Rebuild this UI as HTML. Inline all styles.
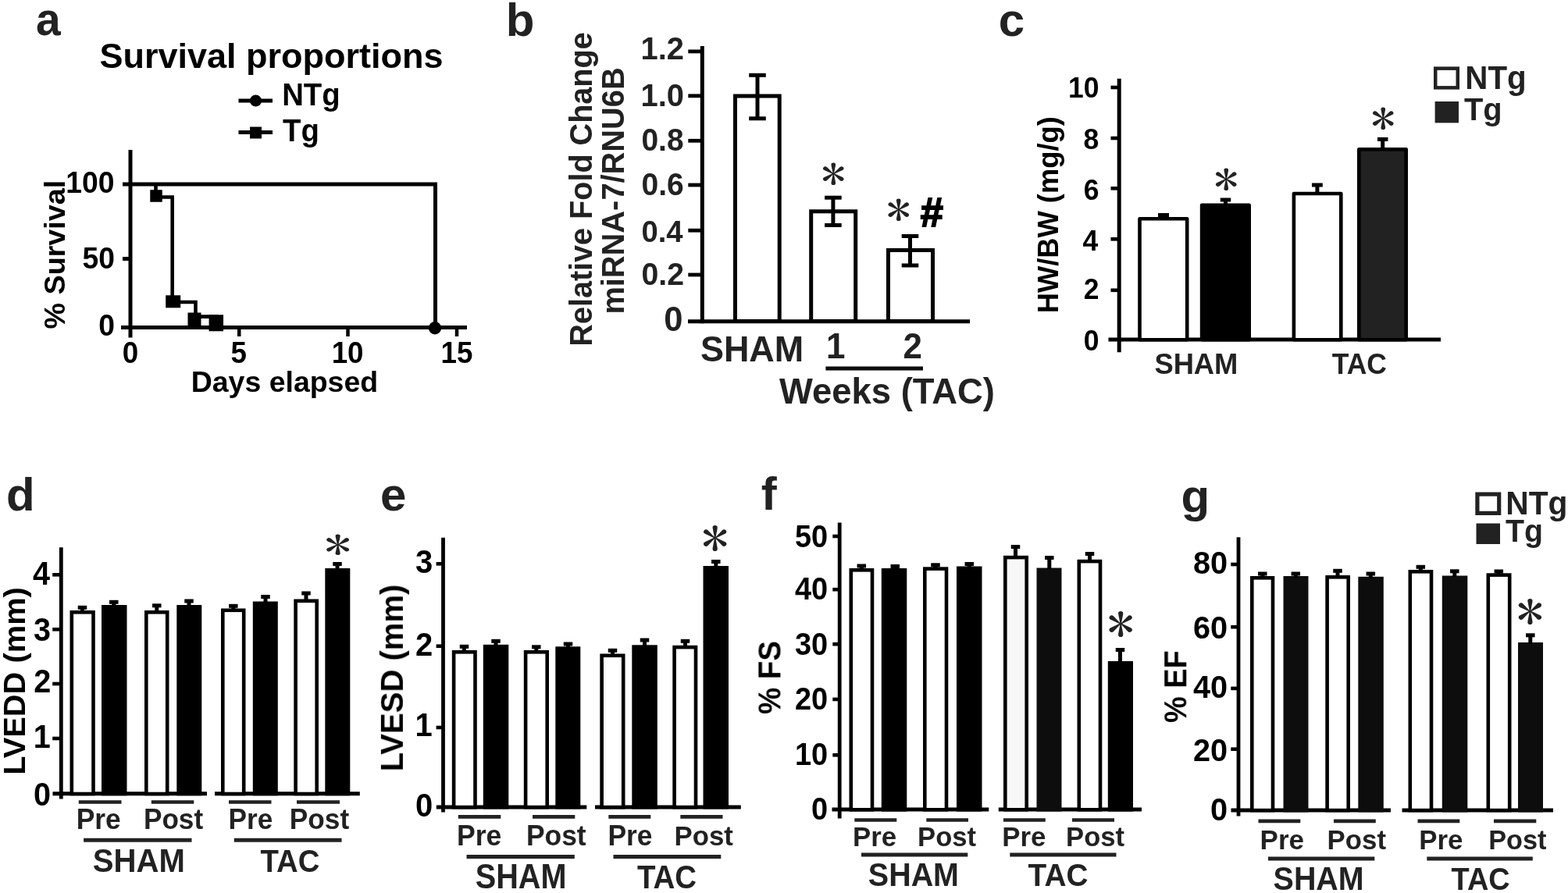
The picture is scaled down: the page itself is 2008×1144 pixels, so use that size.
<!DOCTYPE html>
<html lang="en">
<head>
<meta charset="utf-8">
<title>Figure: Survival, miRNA-7 expression and cardiac function</title>
<style>
html,body{margin:0;padding:0;background:#fff;}
body{width:2008px;height:1144px;overflow:hidden;}
svg{display:block;}
text{white-space:pre;font-family:"Liberation Sans",sans-serif;font-weight:bold;}
text.st{font-family:"IPAGothic","Liberation Serif",serif;font-weight:normal;}
</style>
</head>
<body>
<svg width="2008" height="1144" viewBox="0 0 2008 1144" role="img" aria-label="Seven-panel figure: survival curve, miRNA-7 expression, heart weight and echocardiography bar charts">
<defs><filter id="soft" x="0" y="0" width="2008" height="1144" filterUnits="userSpaceOnUse"><feGaussianBlur stdDeviation="0.55"/></filter></defs>
<rect x="0" y="0" width="2008" height="1144" fill="#fff"/>
<g filter="url(#soft)">
<text transform="translate(46.01 45.1) scale(1 1.04)" font-size="57" fill="#222" >a</text>
<text x="647.7" y="45.5" font-size="60" fill="#222" >b</text>
<text x="1278.72" y="45.7" font-size="60" fill="#222" >c</text>
<text x="7.95" y="653.5" font-size="60" fill="#222" >d</text>
<text x="486.88" y="653.5" font-size="60" fill="#222" >e</text>
<text x="974.67" y="653" font-size="60" fill="#222" >f</text>
<text x="1512.58" y="655.8" font-size="60" fill="#222" >g</text>
<text x="127.45" y="87.2" font-size="45" fill="#000" >Survival proportions</text>
<line x1="305.5" y1="129" x2="349" y2="129" stroke="#000" stroke-width="5"/>
<circle cx="327.5" cy="129" r="7.6" fill="#000"/>
<line x1="305.5" y1="169.5" x2="349" y2="169.5" stroke="#000" stroke-width="5"/>
<rect x="320" y="162.5" width="15" height="15" fill="#000"/>
<text transform="translate(361.15 135) scale(1 1.04)" font-size="38.3" fill="#000" >NTg</text>
<text transform="translate(362.12 181) scale(1 1.04)" font-size="38.3" fill="#000" >Tg</text>
<line x1="167" y1="192" x2="167" y2="432.5" stroke="#000" stroke-width="5"/>
<line x1="155" y1="419.5" x2="598" y2="419.5" stroke="#000" stroke-width="5"/>
<line x1="157" y1="236" x2="167" y2="236" stroke="#000" stroke-width="5"/>
<line x1="157" y1="331.5" x2="167" y2="331.5" stroke="#000" stroke-width="5"/>
<line x1="306.25" y1="419.5" x2="306.25" y2="431" stroke="#000" stroke-width="4.5"/>
<line x1="445.5" y1="419.5" x2="445.5" y2="431" stroke="#000" stroke-width="4.5"/>
<line x1="585" y1="419.5" x2="585" y2="431" stroke="#000" stroke-width="4.5"/>
<path d="M167 236 H557.5 V419.5" fill="none" stroke="#000" stroke-width="5"/>
<circle cx="557" cy="420.2" r="8.2" fill="#000"/>
<path d="M199.5 236 V252.5 H220.7 V387 H250.5 V405.6 H277 V414" fill="none" stroke="#000" stroke-width="4.6"/>
<rect x="192.25" y="243.25" width="15.5" height="15.5" fill="#000"/>
<rect x="212.2" y="378.3" width="19" height="16" fill="#000"/>
<rect x="240.5" y="400.5" width="17" height="18" fill="#000"/>
<rect x="267.55" y="403.3" width="18.5" height="21" fill="#000"/>
<text transform="translate(84.29 247) scale(1 1.04)" font-size="37.3" fill="#000" >100</text>
<text transform="translate(105.49 344.2) scale(1 1.04)" font-size="37.3" fill="#000" >50</text>
<text transform="translate(126.19 429.5) scale(1 1.04)" font-size="37.3" fill="#000" >0</text>
<text transform="translate(156.79 464.7) scale(1 1.03)" font-size="36.8" fill="#000" >0</text>
<text transform="translate(295.54 464.7) scale(1 1.03)" font-size="36.8" fill="#000" >5</text>
<text transform="translate(424.66 464.7) scale(1 1.03)" font-size="36.8" fill="#000" >10</text>
<text transform="translate(564.43 464.7) scale(1 1.03)" font-size="36.8" fill="#000" >15</text>
<text x="244.67" y="501.6" font-size="37.48" fill="#000" >Days elapsed</text>
<text transform="translate(83 421.44) rotate(-90)" font-size="37.7" fill="#000" >% Survival</text>
<line x1="899.3" y1="59" x2="899.3" y2="414.3" stroke="#000" stroke-width="5"/>
<line x1="881" y1="411.8" x2="1242" y2="411.8" stroke="#000" stroke-width="5"/>
<line x1="881.3" y1="65.9" x2="899.3" y2="65.9" stroke="#000" stroke-width="4.8"/>
<line x1="881.3" y1="122.8" x2="899.3" y2="122.8" stroke="#000" stroke-width="4.8"/>
<line x1="881.3" y1="180.3" x2="899.3" y2="180.3" stroke="#000" stroke-width="4.8"/>
<line x1="881.3" y1="237" x2="899.3" y2="237" stroke="#000" stroke-width="4.8"/>
<line x1="881.3" y1="295.2" x2="899.3" y2="295.2" stroke="#000" stroke-width="4.8"/>
<line x1="881.3" y1="352" x2="899.3" y2="352" stroke="#000" stroke-width="4.8"/>
<text transform="translate(820.5 76.4) scale(1 1.03)" font-size="39.92" fill="#222" >1.2</text>
<text transform="translate(820.5 135.5) scale(1 1.03)" font-size="39.92" fill="#222" >1.0</text>
<text transform="translate(821.44 192.8) scale(1 1.03)" font-size="38.94" fill="#222" >0.8</text>
<text transform="translate(821.44 250.1) scale(1 1.03)" font-size="39.09" fill="#222" >0.6</text>
<text transform="translate(821.47 309.8) scale(1 1.03)" font-size="38.22" fill="#222" >0.4</text>
<text transform="translate(821.43 364.9) scale(1 1.03)" font-size="39.24" fill="#222" >0.2</text>
<text x="850.33" y="424.2" font-size="43.5" fill="#222" >0</text>
<rect x="941.5" y="123" width="56.7" height="288.5" fill="#fff" stroke="#000" stroke-width="5"/>
<rect x="1038.7" y="270.8" width="57" height="140.7" fill="#fff" stroke="#000" stroke-width="5"/>
<rect x="1137.5" y="320.5" width="57" height="91" fill="#fff" stroke="#000" stroke-width="5"/>
<line x1="970" y1="96.3" x2="970" y2="151.8" stroke="#000" stroke-width="5"/>
<line x1="959.2" y1="96.3" x2="980.8" y2="96.3" stroke="#000" stroke-width="5"/>
<line x1="959.2" y1="151.8" x2="980.8" y2="151.8" stroke="#000" stroke-width="5"/>
<line x1="1066.9" y1="253.2" x2="1066.9" y2="288.5" stroke="#000" stroke-width="5"/>
<line x1="1056.1" y1="253.2" x2="1077.7" y2="253.2" stroke="#000" stroke-width="5"/>
<line x1="1056.1" y1="288.5" x2="1077.7" y2="288.5" stroke="#000" stroke-width="5"/>
<line x1="1165.5" y1="302.5" x2="1165.5" y2="340" stroke="#000" stroke-width="5"/>
<line x1="1154.7" y1="302.5" x2="1176.3" y2="302.5" stroke="#000" stroke-width="5"/>
<line x1="1154.7" y1="340" x2="1176.3" y2="340" stroke="#000" stroke-width="5"/>
<text transform="translate(1067.2 222.5) scale(0.6320 0.5700) translate(-24.88 38)" class="st" font-size="100" fill="#222">*</text>
<text transform="translate(1150.8 268.2) scale(0.6320 0.5700) translate(-24.88 38)" class="st" font-size="100" fill="#222">*</text>
<text x="1178.87" y="290.3" font-size="52.5" fill="#000"  stroke="#000" stroke-width="1.8">#</text>
<text transform="translate(896.95 463.4) scale(1 1.04)" font-size="44.95" fill="#222" >SHAM</text>
<text transform="translate(1058.02 458.6) scale(1 1.04)" font-size="44" fill="#222" >1</text>
<text transform="translate(1156.4 458.6) scale(1 1.04)" font-size="44" fill="#222" >2</text>
<line x1="1057.4" y1="472" x2="1182" y2="472" stroke="#0a0a0a" stroke-width="5"/>
<text x="998.09" y="517" font-size="45.41" fill="#222" >Weeks (TAC)</text>
<text transform="translate(757.8 443.67) rotate(-90) scale(1 1.035)" font-size="39.58" fill="#222" >Relative Fold Change</text>
<text transform="translate(798.5 402.59) rotate(-90)" font-size="39.82" fill="#222" >miRNA-7/RNU6B</text>
<line x1="1433.2" y1="100.8" x2="1433.2" y2="451.3" stroke="#000" stroke-width="5"/>
<line x1="1419.5" y1="435" x2="1845" y2="435" stroke="#000" stroke-width="5"/>
<line x1="1422.5" y1="112" x2="1433" y2="112" stroke="#000" stroke-width="4.6"/>
<line x1="1422.5" y1="177" x2="1433" y2="177" stroke="#000" stroke-width="4.6"/>
<line x1="1422.5" y1="241.3" x2="1433" y2="241.3" stroke="#000" stroke-width="4.6"/>
<line x1="1422.5" y1="306.3" x2="1433" y2="306.3" stroke="#000" stroke-width="4.6"/>
<line x1="1422.5" y1="371.8" x2="1433" y2="371.8" stroke="#000" stroke-width="4.6"/>
<text transform="translate(1368.12 124.8) scale(1 1.06)" font-size="35.5" fill="#000" >10</text>
<text transform="translate(1387.46 191) scale(1 1.06)" font-size="35.5" fill="#000" >8</text>
<text transform="translate(1387.64 255.8) scale(1 1.06)" font-size="35.5" fill="#000" >6</text>
<text transform="translate(1386.57 320.9) scale(1 1.06)" font-size="35.5" fill="#000" >4</text>
<text transform="translate(1387.82 383) scale(1 1.06)" font-size="35.5" fill="#000" >2</text>
<text transform="translate(1387.82 449.3) scale(1 1.06)" font-size="35.5" fill="#000" >0</text>
<rect x="1459.5" y="280.3" width="60.7" height="154.9" fill="#fff" stroke="#000" stroke-width="4.6" stroke-linejoin="round"/>
<rect x="1539.1" y="262.8" width="60.6" height="172.4" fill="#000" stroke="#000" stroke-width="4.6" stroke-linejoin="round"/>
<rect x="1656.9" y="248" width="60.4" height="187.2" fill="#fff" stroke="#000" stroke-width="4.6" stroke-linejoin="round"/>
<rect x="1740.3" y="191.3" width="60.4" height="243.9" fill="#232323" stroke="#000" stroke-width="4.6" stroke-linejoin="round"/>
<line x1="1490" y1="275.5" x2="1490" y2="280" stroke="#000" stroke-width="5"/>
<line x1="1483" y1="275.5" x2="1497" y2="275.5" stroke="#000" stroke-width="5"/>
<line x1="1569.5" y1="256" x2="1569.5" y2="262" stroke="#000" stroke-width="5"/>
<line x1="1562.75" y1="256" x2="1576.25" y2="256" stroke="#000" stroke-width="5"/>
<line x1="1686.9" y1="237" x2="1686.9" y2="247" stroke="#000" stroke-width="5"/>
<line x1="1680" y1="237" x2="1693.8" y2="237" stroke="#000" stroke-width="5"/>
<line x1="1770.7" y1="178.4" x2="1770.7" y2="190" stroke="#000" stroke-width="5"/>
<line x1="1763.95" y1="178.4" x2="1777.45" y2="178.4" stroke="#000" stroke-width="5"/>
<text transform="translate(1570.3 229) scale(0.6320 0.5700) translate(-24.88 38)" class="st" font-size="100" fill="#222">*</text>
<text transform="translate(1771.3 151.5) scale(0.6320 0.5700) translate(-24.88 38)" class="st" font-size="100" fill="#222">*</text>
<text transform="translate(1478.41 478.8) scale(1 1.03)" font-size="36.35" fill="#222" >SHAM</text>
<text transform="translate(1705.65 478.8) scale(1 1.03)" font-size="35.48" fill="#222" >TAC</text>
<text transform="translate(1355 401.25) rotate(-90)" font-size="36.31" fill="#000" >HW/BW (mg/g)</text>
<rect x="1838.25" y="87.65" width="28.5" height="24.7" fill="#fff" stroke="#222" stroke-width="4.5"/>
<rect x="1837.6" y="130" width="30.4" height="27.4" fill="#232323"/>
<text transform="translate(1876.28 114) scale(1 1.04)" font-size="40.33" fill="#222" >NTg</text>
<text transform="translate(1875 154) scale(1 1.04)" font-size="39.83" fill="#222" >Tg</text>
<line x1="78.3" y1="701.3" x2="78.3" y2="1023.5" stroke="#000" stroke-width="4.8"/>
<line x1="67.5" y1="1016.8" x2="265" y2="1016.8" stroke="#000" stroke-width="5"/>
<line x1="275" y1="1016.8" x2="460.8" y2="1016.8" stroke="#000" stroke-width="5"/>
<line x1="67.2" y1="736.3" x2="78.3" y2="736.3" stroke="#000" stroke-width="4.6"/>
<line x1="67.2" y1="806.3" x2="78.3" y2="806.3" stroke="#000" stroke-width="4.6"/>
<line x1="67.2" y1="876" x2="78.3" y2="876" stroke="#000" stroke-width="4.6"/>
<line x1="67.2" y1="946" x2="78.3" y2="946" stroke="#000" stroke-width="4.6"/>
<text transform="translate(41.92 749.3) scale(1 1.07)" font-size="39.6" fill="#000" >4</text>
<text transform="translate(43.11 820.8) scale(1 1.07)" font-size="39.6" fill="#000" >3</text>
<text transform="translate(43.31 887.2) scale(1 1.07)" font-size="39.6" fill="#000" >2</text>
<text transform="translate(42.81 958.3) scale(1 1.07)" font-size="39.6" fill="#000" >1</text>
<text transform="translate(43.01 1031.8) scale(1 1.07)" font-size="39.6" fill="#000" >0</text>
<rect x="91.8" y="784.3" width="27.7" height="232.7" fill="#fff" stroke="#000" stroke-width="4.6"/>
<rect x="130" y="775" width="32.5" height="244.3" fill="#000"/>
<rect x="187.3" y="784.3" width="26.9" height="232.7" fill="#fff" stroke="#000" stroke-width="4.6"/>
<rect x="226.3" y="775" width="32" height="244.3" fill="#000"/>
<rect x="285.3" y="781.8" width="26.9" height="235.2" fill="#fff" stroke="#000" stroke-width="4.6"/>
<rect x="323.8" y="770.5" width="32" height="248.8" fill="#000"/>
<rect x="378.6" y="769.8" width="27.1" height="247.2" fill="#fff" stroke="#000" stroke-width="4.6"/>
<rect x="416.3" y="728" width="32" height="291.3" fill="#000"/>
<line x1="105.5" y1="778.3" x2="105.5" y2="784" stroke="#000" stroke-width="5"/>
<line x1="99.75" y1="778.3" x2="111.25" y2="778.3" stroke="#000" stroke-width="5"/>
<line x1="145.8" y1="771.3" x2="145.8" y2="777" stroke="#000" stroke-width="5"/>
<line x1="140.05" y1="771.3" x2="151.55" y2="771.3" stroke="#000" stroke-width="5"/>
<line x1="200.8" y1="775.8" x2="200.8" y2="784" stroke="#000" stroke-width="5"/>
<line x1="195.05" y1="775.8" x2="206.55" y2="775.8" stroke="#000" stroke-width="5"/>
<line x1="242" y1="770" x2="242" y2="777" stroke="#000" stroke-width="5"/>
<line x1="236.25" y1="770" x2="247.75" y2="770" stroke="#000" stroke-width="5"/>
<line x1="298.8" y1="776.3" x2="298.8" y2="781.5" stroke="#000" stroke-width="5"/>
<line x1="293.05" y1="776.3" x2="304.55" y2="776.3" stroke="#000" stroke-width="5"/>
<line x1="340" y1="764.5" x2="340" y2="772.5" stroke="#000" stroke-width="5"/>
<line x1="334.25" y1="764.5" x2="345.75" y2="764.5" stroke="#000" stroke-width="5"/>
<line x1="392" y1="760" x2="392" y2="769.5" stroke="#000" stroke-width="5"/>
<line x1="386.25" y1="760" x2="397.75" y2="760" stroke="#000" stroke-width="5"/>
<line x1="432" y1="722.5" x2="432" y2="730" stroke="#000" stroke-width="5"/>
<line x1="426.25" y1="722.5" x2="437.75" y2="722.5" stroke="#000" stroke-width="5"/>
<text transform="translate(432.5 698) scale(0.6864 0.5300) translate(-24.88 38)" class="st" font-size="100" fill="#222">*</text>
<line x1="100.8" y1="1027.5" x2="155.5" y2="1027.5" stroke="#242424" stroke-width="4.7"/>
<line x1="193.8" y1="1027.5" x2="248.3" y2="1027.5" stroke="#242424" stroke-width="4.7"/>
<line x1="293" y1="1027.5" x2="347.5" y2="1027.5" stroke="#242424" stroke-width="4.7"/>
<line x1="380" y1="1027.5" x2="435" y2="1027.5" stroke="#242424" stroke-width="4.7"/>
<text transform="translate(97.71 1062) scale(1 1.03)" font-size="35.43" fill="#222" >Pre</text>
<text transform="translate(183.93 1062) scale(1 1.03)" font-size="35.16" fill="#222" >Post</text>
<text transform="translate(292.52 1062) scale(1 1.03)" font-size="35.23" fill="#222" >Pre</text>
<text transform="translate(370.82 1062) scale(1 1.03)" font-size="35.21" fill="#222" >Post</text>
<line x1="107.1" y1="1076.3" x2="245.5" y2="1076.3" stroke="#222" stroke-width="5"/>
<line x1="299.8" y1="1076.3" x2="437.5" y2="1076.3" stroke="#222" stroke-width="5"/>
<text transform="translate(118.8 1116.7) scale(1 1.055)" font-size="40.14" fill="#222" >SHAM</text>
<text transform="translate(333.42 1116.7) scale(1 1.055)" font-size="38.35" fill="#222" >TAC</text>
<text transform="translate(32.1 992.69) rotate(-90) scale(1 0.97)" font-size="39.86" fill="#000" >LVEDD (mm)</text>
<line x1="567.5" y1="688.8" x2="567.5" y2="1040.5" stroke="#000" stroke-width="4.8"/>
<line x1="558.8" y1="1033.9" x2="751.3" y2="1033.9" stroke="#000" stroke-width="5"/>
<line x1="762" y1="1033.9" x2="948.8" y2="1033.9" stroke="#000" stroke-width="5"/>
<line x1="558.6" y1="722.3" x2="567.5" y2="722.3" stroke="#000" stroke-width="4.6"/>
<line x1="558.6" y1="827.7" x2="567.5" y2="827.7" stroke="#000" stroke-width="4.6"/>
<line x1="558.6" y1="932" x2="567.5" y2="932" stroke="#000" stroke-width="4.6"/>
<text transform="translate(531.9 733.6) scale(1 1.075)" font-size="40" fill="#000" >3</text>
<text transform="translate(532.1 840) scale(1 1.075)" font-size="40" fill="#000" >2</text>
<text transform="translate(531.6 943.4) scale(1 1.075)" font-size="40" fill="#000" >1</text>
<text transform="translate(532.1 1045.8) scale(1 1.075)" font-size="40" fill="#000" >0</text>
<rect x="581.1" y="835.3" width="27.4" height="198.8" fill="#fff" stroke="#000" stroke-width="4.6"/>
<rect x="618.8" y="825.8" width="32.5" height="210.6" fill="#000"/>
<rect x="673.1" y="835.3" width="27.6" height="198.8" fill="#fff" stroke="#000" stroke-width="4.6"/>
<rect x="711.3" y="828.3" width="32" height="208.1" fill="#000"/>
<rect x="770.6" y="839.8" width="27.6" height="194.3" fill="#fff" stroke="#000" stroke-width="4.6"/>
<rect x="809.3" y="826.3" width="32.5" height="210.1" fill="#000"/>
<rect x="863.6" y="829.1" width="27.4" height="205" fill="#fff" stroke="#000" stroke-width="4.6"/>
<rect x="900.5" y="725" width="32.5" height="311.4" fill="#000"/>
<line x1="594.5" y1="828.3" x2="594.5" y2="835" stroke="#000" stroke-width="5"/>
<line x1="588.75" y1="828.3" x2="600.25" y2="828.3" stroke="#000" stroke-width="5"/>
<line x1="635" y1="821.3" x2="635" y2="827.8" stroke="#000" stroke-width="5"/>
<line x1="629.25" y1="821.3" x2="640.75" y2="821.3" stroke="#000" stroke-width="5"/>
<line x1="686.8" y1="828.8" x2="686.8" y2="835" stroke="#000" stroke-width="5"/>
<line x1="681.05" y1="828.8" x2="692.55" y2="828.8" stroke="#000" stroke-width="5"/>
<line x1="727.5" y1="825" x2="727.5" y2="830.3" stroke="#000" stroke-width="5"/>
<line x1="721.75" y1="825" x2="733.25" y2="825" stroke="#000" stroke-width="5"/>
<line x1="784.5" y1="833.3" x2="784.5" y2="839.5" stroke="#000" stroke-width="5"/>
<line x1="778.75" y1="833.3" x2="790.25" y2="833.3" stroke="#000" stroke-width="5"/>
<line x1="825.5" y1="820" x2="825.5" y2="828.3" stroke="#000" stroke-width="5"/>
<line x1="819.75" y1="820" x2="831.25" y2="820" stroke="#000" stroke-width="5"/>
<line x1="877.5" y1="821.3" x2="877.5" y2="828.8" stroke="#000" stroke-width="5"/>
<line x1="871.75" y1="821.3" x2="883.25" y2="821.3" stroke="#000" stroke-width="5"/>
<line x1="916.8" y1="719.5" x2="916.8" y2="727" stroke="#000" stroke-width="5"/>
<line x1="911.05" y1="719.5" x2="922.55" y2="719.5" stroke="#000" stroke-width="5"/>
<text transform="translate(915.5 690) scale(0.6982 0.6500) translate(-24.88 38)" class="st" font-size="100" fill="#222">*</text>
<line x1="586.8" y1="1046.3" x2="641.3" y2="1046.3" stroke="#242424" stroke-width="4.7"/>
<line x1="682" y1="1046.3" x2="736.3" y2="1046.3" stroke="#242424" stroke-width="4.7"/>
<line x1="779.3" y1="1046.3" x2="833.3" y2="1046.3" stroke="#242424" stroke-width="4.7"/>
<line x1="871.3" y1="1046.3" x2="925.5" y2="1046.3" stroke="#242424" stroke-width="4.7"/>
<text transform="translate(584.9 1083.4) scale(1 1.03)" font-size="35.63" fill="#222" >Pre</text>
<text transform="translate(673.91 1083.4) scale(1 1.03)" font-size="35.4" fill="#222" >Post</text>
<text transform="translate(778.41 1083.4) scale(1 1.03)" font-size="35.43" fill="#222" >Pre</text>
<text transform="translate(863.45 1083.4) scale(1 1.03)" font-size="34.83" fill="#222" >Post</text>
<line x1="597.5" y1="1097.5" x2="735.8" y2="1097.5" stroke="#222" stroke-width="5"/>
<line x1="785.5" y1="1097.5" x2="923.3" y2="1097.5" stroke="#222" stroke-width="5"/>
<text transform="translate(608.81 1137.5) scale(1 1.1)" font-size="39.65" fill="#222" >SHAM</text>
<text transform="translate(815.91 1137.5) scale(1 1.1)" font-size="38.51" fill="#222" >TAC</text>
<text transform="translate(515.9 988.3) rotate(-90)" font-size="40.07" fill="#000" >LVESD (mm)</text>
<line x1="1075.2" y1="669.5" x2="1075.2" y2="1048.5" stroke="#000" stroke-width="4.8"/>
<line x1="1065.5" y1="1037.1" x2="1266.3" y2="1037.1" stroke="#000" stroke-width="5"/>
<line x1="1278.8" y1="1037.1" x2="1462" y2="1037.1" stroke="#000" stroke-width="5"/>
<line x1="1066.3" y1="687" x2="1075.2" y2="687" stroke="#000" stroke-width="4.6"/>
<line x1="1066.3" y1="755.2" x2="1075.2" y2="755.2" stroke="#000" stroke-width="4.6"/>
<line x1="1066.3" y1="825.2" x2="1075.2" y2="825.2" stroke="#000" stroke-width="4.6"/>
<line x1="1066.3" y1="895.9" x2="1075.2" y2="895.9" stroke="#000" stroke-width="4.6"/>
<line x1="1066.3" y1="967.3" x2="1075.2" y2="967.3" stroke="#000" stroke-width="4.6"/>
<text transform="translate(1017.94 700.7) scale(1 1.09)" font-size="38" fill="#000" >50</text>
<text transform="translate(1017.94 768.2) scale(1 1.09)" font-size="38" fill="#000" >40</text>
<text transform="translate(1017.94 839.1) scale(1 1.09)" font-size="38" fill="#000" >30</text>
<text transform="translate(1017.94 908.7) scale(1 1.09)" font-size="38" fill="#000" >20</text>
<text transform="translate(1017.94 979.6) scale(1 1.09)" font-size="38" fill="#000" >10</text>
<text transform="translate(1039.03 1049.8) scale(1 1.09)" font-size="38" fill="#000" >0</text>
<rect x="1089.8" y="730.3" width="27.2" height="307" fill="#fff" stroke="#000" stroke-width="4.6"/>
<rect x="1128.8" y="728" width="32.5" height="311.6" fill="#000"/>
<rect x="1184.3" y="728.6" width="27.7" height="308.7" fill="#fff" stroke="#000" stroke-width="4.6"/>
<rect x="1225" y="725.5" width="32.5" height="314.1" fill="#000"/>
<rect x="1287.3" y="714.1" width="27.4" height="323.2" fill="#f7f7f7" stroke="#000" stroke-width="4.6"/>
<rect x="1327.5" y="727.5" width="32" height="312.1" fill="#101010"/>
<rect x="1381.8" y="719.1" width="27.2" height="318.2" fill="#fff" stroke="#000" stroke-width="4.6"/>
<rect x="1418.8" y="847" width="32.2" height="192.6" fill="#000"/>
<line x1="1103.3" y1="725" x2="1103.3" y2="730" stroke="#000" stroke-width="5"/>
<line x1="1097.55" y1="725" x2="1109.05" y2="725" stroke="#000" stroke-width="5"/>
<line x1="1146.3" y1="725.5" x2="1146.3" y2="730" stroke="#000" stroke-width="5"/>
<line x1="1140.55" y1="725.5" x2="1152.05" y2="725.5" stroke="#000" stroke-width="5"/>
<line x1="1198" y1="723.8" x2="1198" y2="728.3" stroke="#000" stroke-width="5"/>
<line x1="1192.25" y1="723.8" x2="1203.75" y2="723.8" stroke="#000" stroke-width="5"/>
<line x1="1241.3" y1="722.5" x2="1241.3" y2="727.5" stroke="#000" stroke-width="5"/>
<line x1="1235.55" y1="722.5" x2="1247.05" y2="722.5" stroke="#000" stroke-width="5"/>
<line x1="1300.5" y1="700.5" x2="1300.5" y2="713.8" stroke="#000" stroke-width="5"/>
<line x1="1294.75" y1="700.5" x2="1306.25" y2="700.5" stroke="#000" stroke-width="5"/>
<line x1="1343.8" y1="714.5" x2="1343.8" y2="729.5" stroke="#000" stroke-width="5"/>
<line x1="1338.05" y1="714.5" x2="1349.55" y2="714.5" stroke="#000" stroke-width="5"/>
<line x1="1395.5" y1="709.5" x2="1395.5" y2="718.8" stroke="#000" stroke-width="5"/>
<line x1="1389.75" y1="709.5" x2="1401.25" y2="709.5" stroke="#000" stroke-width="5"/>
<line x1="1434.5" y1="832.5" x2="1434.5" y2="849" stroke="#000" stroke-width="5"/>
<line x1="1428.75" y1="832.5" x2="1440.25" y2="832.5" stroke="#000" stroke-width="5"/>
<text transform="translate(1435 800) scale(0.6982 0.6500) translate(-24.88 38)" class="st" font-size="100" fill="#222">*</text>
<line x1="1094.3" y1="1050.5" x2="1148.3" y2="1050.5" stroke="#242424" stroke-width="4.7"/>
<line x1="1186.3" y1="1050.5" x2="1240" y2="1050.5" stroke="#242424" stroke-width="4.7"/>
<line x1="1285" y1="1050.5" x2="1338.8" y2="1050.5" stroke="#242424" stroke-width="4.7"/>
<line x1="1373" y1="1050.5" x2="1427" y2="1050.5" stroke="#242424" stroke-width="4.7"/>
<text transform="translate(1091.95 1083.5) scale(1 1.02)" font-size="34.83" fill="#222" >Pre</text>
<text transform="translate(1175.06 1083.5) scale(1 1.02)" font-size="34.63" fill="#222" >Post</text>
<text transform="translate(1283.14 1083.5) scale(1 1.02)" font-size="34.9" fill="#222" >Pre</text>
<text transform="translate(1365.06 1083.5) scale(1 1.02)" font-size="34.63" fill="#222" >Post</text>
<line x1="1103" y1="1095" x2="1239.3" y2="1095" stroke="#222" stroke-width="5"/>
<line x1="1293.3" y1="1095" x2="1429.5" y2="1095" stroke="#222" stroke-width="5"/>
<text transform="translate(1111.82 1135.3) scale(1 1.07)" font-size="39.47" fill="#222" >SHAM</text>
<text transform="translate(1316.61 1135.3) scale(1 1.07)" font-size="38.77" fill="#222" >TAC</text>
<text transform="translate(999.3 914.96) rotate(-90) scale(1 1.08)" font-size="38.45" fill="#000" >% FS</text>
<line x1="1586" y1="688.3" x2="1586" y2="1045.4" stroke="#000" stroke-width="4.8"/>
<line x1="1576.5" y1="1037.9" x2="1781" y2="1037.9" stroke="#000" stroke-width="5"/>
<line x1="1795.5" y1="1037.9" x2="1989" y2="1037.9" stroke="#000" stroke-width="5"/>
<line x1="1576.3" y1="723" x2="1586" y2="723" stroke="#000" stroke-width="4.6"/>
<line x1="1576.3" y1="803.2" x2="1586" y2="803.2" stroke="#000" stroke-width="4.6"/>
<line x1="1576.3" y1="881.9" x2="1586" y2="881.9" stroke="#000" stroke-width="4.6"/>
<line x1="1576.3" y1="959.7" x2="1586" y2="959.7" stroke="#000" stroke-width="4.6"/>
<text transform="translate(1527.92 735) scale(1 1.03)" font-size="39.7" fill="#000" >80</text>
<text transform="translate(1527.92 818) scale(1 1.03)" font-size="39.7" fill="#000" >60</text>
<text transform="translate(1527.92 893.8) scale(1 1.03)" font-size="39.7" fill="#000" >40</text>
<text transform="translate(1527.92 974.6) scale(1 1.03)" font-size="39.7" fill="#000" >20</text>
<text transform="translate(1549.95 1051) scale(1 1.03)" font-size="39.7" fill="#000" >0</text>
<rect x="1603.3" y="740.3" width="26.7" height="297.8" fill="#fff" stroke="#000" stroke-width="4.6"/>
<rect x="1643.5" y="738" width="32" height="302.4" fill="#111"/>
<rect x="1699.6" y="739.3" width="27.1" height="298.8" fill="#fff" stroke="#000" stroke-width="4.6"/>
<rect x="1739.3" y="738.8" width="32.5" height="301.6" fill="#111"/>
<rect x="1805.8" y="732.3" width="27.2" height="305.8" fill="#fff" stroke="#000" stroke-width="4.6"/>
<rect x="1846.8" y="737.5" width="32.5" height="302.9" fill="#111"/>
<rect x="1905.8" y="736.6" width="27.4" height="301.5" fill="#fff" stroke="#000" stroke-width="4.6"/>
<rect x="1944" y="823" width="32" height="217.4" fill="#111"/>
<line x1="1616.8" y1="735" x2="1616.8" y2="740" stroke="#000" stroke-width="5"/>
<line x1="1611.05" y1="735" x2="1622.55" y2="735" stroke="#000" stroke-width="5"/>
<line x1="1659.3" y1="735" x2="1659.3" y2="740" stroke="#000" stroke-width="5"/>
<line x1="1653.55" y1="735" x2="1665.05" y2="735" stroke="#000" stroke-width="5"/>
<line x1="1713" y1="731.3" x2="1713" y2="739" stroke="#000" stroke-width="5"/>
<line x1="1707.25" y1="731.3" x2="1718.75" y2="731.3" stroke="#000" stroke-width="5"/>
<line x1="1755.3" y1="735" x2="1755.3" y2="740.8" stroke="#000" stroke-width="5"/>
<line x1="1749.55" y1="735" x2="1761.05" y2="735" stroke="#000" stroke-width="5"/>
<line x1="1819.3" y1="726.3" x2="1819.3" y2="732" stroke="#000" stroke-width="5"/>
<line x1="1813.55" y1="726.3" x2="1825.05" y2="726.3" stroke="#000" stroke-width="5"/>
<line x1="1862.8" y1="731.8" x2="1862.8" y2="739.5" stroke="#000" stroke-width="5"/>
<line x1="1857.05" y1="731.8" x2="1868.55" y2="731.8" stroke="#000" stroke-width="5"/>
<line x1="1919.3" y1="732" x2="1919.3" y2="736.3" stroke="#000" stroke-width="5"/>
<line x1="1913.55" y1="732" x2="1925.05" y2="732" stroke="#000" stroke-width="5"/>
<line x1="1959.8" y1="813.8" x2="1959.8" y2="825" stroke="#000" stroke-width="5"/>
<line x1="1954.05" y1="813.8" x2="1965.55" y2="813.8" stroke="#000" stroke-width="5"/>
<text transform="translate(1959.3 783.5) scale(0.6982 0.6600) translate(-24.88 38)" class="st" font-size="100" fill="#222">*</text>
<line x1="1611.5" y1="1051.8" x2="1665.3" y2="1051.8" stroke="#242424" stroke-width="4.7"/>
<line x1="1708" y1="1051.8" x2="1761.8" y2="1051.8" stroke="#242424" stroke-width="4.7"/>
<line x1="1815.5" y1="1051.8" x2="1869.3" y2="1051.8" stroke="#242424" stroke-width="4.7"/>
<line x1="1913" y1="1051.8" x2="1967.3" y2="1051.8" stroke="#242424" stroke-width="4.7"/>
<text x="1613.54" y="1088" font-size="35.03" fill="#222" >Pre</text>
<text x="1699.55" y="1088" font-size="34.83" fill="#222" >Post</text>
<text x="1817.14" y="1088" font-size="34.9" fill="#222" >Pre</text>
<text x="1906.18" y="1088" font-size="34.3" fill="#222" >Post</text>
<line x1="1624" y1="1100" x2="1760.3" y2="1100" stroke="#222" stroke-width="5"/>
<line x1="1827.3" y1="1100" x2="1962.8" y2="1100" stroke="#222" stroke-width="5"/>
<text transform="translate(1630.62 1140.2) scale(1 1.06)" font-size="39.4" fill="#222" >SHAM</text>
<text transform="translate(1858.62 1140.2) scale(1 1.06)" font-size="37.94" fill="#222" >TAC</text>
<text transform="translate(1519 925.95) rotate(-90) scale(1 1.05)" font-size="37.9" fill="#000" >% EF</text>
<rect x="1891.9" y="633.1" width="27.8" height="24.3" fill="#fff" stroke="#222" stroke-width="5.2"/>
<rect x="1890.5" y="670.5" width="30.5" height="26.5" fill="#232323"/>
<text transform="translate(1928.25 658.8) scale(1 1.04)" font-size="40.77" fill="#222" >NTg</text>
<text transform="translate(1928.11 693.8) scale(1 1.04)" font-size="39.3" fill="#222" >Tg</text>
</g>
</svg>
</body>
</html>
